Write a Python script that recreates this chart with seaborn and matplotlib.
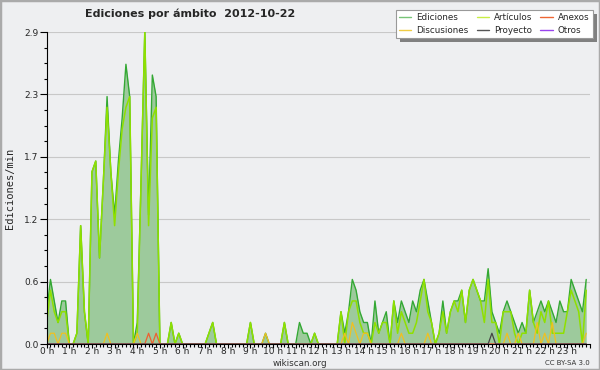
import numpy as np
import matplotlib
matplotlib.use('Agg')
import matplotlib.pyplot as plt
from matplotlib.lines import Line2D
from matplotlib.patches import Rectangle
import seaborn as sns

# ediciones por minuto en tramos de 10 minutos (6 por hora)
ediciones = [
    0.3, 0.6, 0.4, 0.2, 0.4, 0.4,   # 0 h
    0.0, 0.0, 0.1, 1.1, 0.3, 0.0,   # 1 h
    1.6, 1.7, 0.8, 1.5, 2.3, 1.6,   # 2 h
    1.2, 1.7, 2.1, 2.6, 2.3, 0.0,   # 3 h
    0.2, 1.5, 2.9, 1.2, 2.5, 2.3,   # 4 h
    0.0, 0.0, 0.0, 0.2, 0.0, 0.1,   # 5 h
    0.0, 0.0, 0.0, 0.0, 0.0, 0.0,   # 6 h
    0.0, 0.1, 0.2, 0.0, 0.0, 0.0,   # 7 h
    0.0, 0.0, 0.0, 0.0, 0.0, 0.0,   # 8 h
    0.2, 0.0, 0.0, 0.0, 0.1, 0.0,   # 9 h
    0.0, 0.0, 0.0, 0.2, 0.0, 0.0,   # 10 h
    0.0, 0.2, 0.1, 0.1, 0.0, 0.1,   # 11 h
    0.0, 0.0, 0.0, 0.0, 0.0, 0.0,   # 12 h
    0.3, 0.1, 0.3, 0.6, 0.5, 0.3,   # 13 h
    0.2, 0.2, 0.0, 0.4, 0.1, 0.2,   # 14 h
    0.3, 0.0, 0.4, 0.2, 0.4, 0.3,   # 15 h
    0.2, 0.4, 0.3, 0.5, 0.6, 0.4,   # 16 h
    0.2, 0.0, 0.1, 0.4, 0.1, 0.3,   # 17 h
    0.4, 0.4, 0.5, 0.2, 0.5, 0.6,   # 18 h
    0.5, 0.4, 0.4, 0.7, 0.3, 0.2,   # 19 h
    0.1, 0.3, 0.4, 0.3, 0.2, 0.1,   # 20 h
    0.2, 0.1, 0.5, 0.2, 0.3, 0.4,   # 21 h
    0.3, 0.4, 0.3, 0.2, 0.4, 0.3,   # 22 h
    0.3, 0.6, 0.5, 0.4, 0.3, 0.6,   # 23 h
]

articulos = [
    0.2, 0.5, 0.3, 0.2, 0.3, 0.3,
    0.0, 0.0, 0.1, 1.1, 0.3, 0.0,
    1.6, 1.7, 0.8, 1.5, 2.2, 1.6,
    1.1, 1.6, 2.0, 2.2, 2.3, 0.0,
    0.1, 1.5, 2.9, 1.1, 2.1, 2.2,
    0.0, 0.0, 0.0, 0.2, 0.0, 0.1,
    0.0, 0.0, 0.0, 0.0, 0.0, 0.0,
    0.0, 0.1, 0.2, 0.0, 0.0, 0.0,
    0.0, 0.0, 0.0, 0.0, 0.0, 0.0,
    0.2, 0.0, 0.0, 0.0, 0.0, 0.0,
    0.0, 0.0, 0.0, 0.2, 0.0, 0.0,
    0.0, 0.0, 0.0, 0.0, 0.0, 0.1,
    0.0, 0.0, 0.0, 0.0, 0.0, 0.0,
    0.3, 0.0, 0.3, 0.4, 0.4, 0.2,
    0.1, 0.1, 0.0, 0.2, 0.1, 0.2,
    0.2, 0.0, 0.4, 0.1, 0.3, 0.2,
    0.1, 0.1, 0.2, 0.4, 0.6, 0.3,
    0.2, 0.0, 0.1, 0.3, 0.1, 0.3,
    0.4, 0.3, 0.5, 0.2, 0.5, 0.6,
    0.5, 0.4, 0.2, 0.6, 0.2, 0.2,
    0.0, 0.3, 0.3, 0.3, 0.1, 0.0,
    0.1, 0.1, 0.5, 0.2, 0.1, 0.3,
    0.2, 0.4, 0.1, 0.1, 0.1, 0.1,
    0.3, 0.5, 0.4, 0.3, 0.0, 0.5,
]

# valores distintos de cero de los ámbitos pequeños: {tramo: valor}
discusiones_nz = {1: 0.1, 2: 0.1, 4: 0.1, 5: 0.1, 16: 0.1, 24: 0.1, 58: 0.1,
                  79: 0.1, 81: 0.2, 82: 0.1, 84: 0.1, 85: 0.1, 94: 0.1,
                  101: 0.1, 122: 0.1, 125: 0.1, 130: 0.2, 132: 0.1,
                  134: 0.2, 143: 0.1}
anexos_nz = {27: 0.1, 29: 0.1}
proyecto_nz = {118: 0.1}
otros_nz = {}

n = len(ediciones)
horas = np.arange(n) / 6.0


def serie(nz):
    v = np.zeros(n)
    for k, val in nz.items():
        v[k] = val
    return v


discusiones = serie(discusiones_nz)
anexos = serie(anexos_nz)
proyecto = serie(proyecto_nz)
otros = serie(otros_nz)

bg = '#eeeff1'
sns.set_style('ticks', rc={'axes.facecolor': bg, 'figure.facecolor': bg})
plt.rcParams['font.family'] = ['DejaVu Sans']

fig = plt.figure(figsize=(6, 3.7), dpi=100)
ax = fig.add_axes([46.7 / 600, 26 / 370, 543.3 / 600, 312 / 370])

ax.fill_between(horas, 0, ediciones, color='#9dca9c', lw=0, zorder=1)
sns.lineplot(x=horas, y=ediciones, ax=ax, color='#33a833', lw=1.0, zorder=3)
sns.lineplot(x=horas, y=articulos, ax=ax, color='#8fe000', lw=1.1, zorder=4)
sns.lineplot(x=horas, y=discusiones, ax=ax, color='#f0c020', lw=0.9, zorder=5)
sns.lineplot(x=horas, y=anexos, ax=ax, color='#ee6030', lw=0.9, zorder=5)
sns.lineplot(x=horas, y=proyecto, ax=ax, color='#444444', lw=0.9, zorder=5)
sns.lineplot(x=horas, y=otros, ax=ax, color='#9933ee', lw=0.9, zorder=5)

ax.set_xlim(0, 24)
ax.set_ylim(0, 2.9)
ax.set_axisbelow(True)
ax.yaxis.grid(True, color='#c8c8c8', lw=0.8)
ax.xaxis.grid(False)
for s in ['top', 'right']:
    ax.spines[s].set_visible(False)
for s in ['left', 'bottom']:
    ax.spines[s].set_color('black')
    ax.spines[s].set_linewidth(0.8)
    ax.spines[s].set_zorder(10)

yt = np.linspace(0, 2.9, 6)
ax.set_yticks(yt)
ax.set_yticklabels([f'{v:.1f}' for v in yt])
ax.set_yticks(np.linspace(0, 2.9, 21), minor=True)
ax.set_xticks(range(25))
ax.set_xticklabels([f'{h} h' for h in range(24)] + [''])
ax.set_xticks(np.arange(0, 24.01, 1 / 6), minor=True)
ax.tick_params(axis='y', which='major', length=5, width=0.8, pad=1, labelsize=6.5, color='black')
ax.tick_params(axis='y', which='minor', length=2.5, width=0.8, color='black')
ax.tick_params(axis='x', which='major', length=3, width=0.8, pad=-0.5, labelsize=6.5, color='black')
ax.tick_params(axis='x', which='minor', length=2, width=0.8, color='black')
ax.set_xlabel('')
ax.set_ylabel('')

fig.text(85 / 600, 1 - 14 / 370, 'Ediciones por ámbito  2012-10-22',
         fontweight='bold', fontsize=8, ha='left', va='center')
fig.text(10 / 600, 1 - 188 / 370, 'Ediciones/min', family='DejaVu Sans Mono',
         fontsize=7.5, rotation=90, ha='center', va='center')
fig.text(300 / 600, 1 - 363 / 370, 'wikiscan.org', fontsize=6.3, ha='center',
         va='center', color='#333333')
fig.text(590 / 600, 1 - 363 / 370, 'CC BY-SA 3.0', fontsize=5, ha='right',
         va='center', color='#333333')

handles = [
    Line2D([], [], color='#77c477', lw=1),
    Line2D([], [], color='#f0cc44', lw=1),
    Line2D([], [], color='#c8ee44', lw=1),
    Line2D([], [], color='#555555', lw=1),
    Line2D([], [], color='#ee6633', lw=1),
    Line2D([], [], color='#9944ee', lw=1),
]
labels = ['Ediciones', 'Discusiones', 'Artículos', 'Proyecto', 'Anexos', 'Otros']
leg = fig.legend(handles, labels, loc='upper right', bbox_to_anchor=(593 / 600, 1 - 10 / 370),
                 ncol=3, fontsize=6.3, frameon=True, fancybox=False, handlelength=1.4,
                 handletextpad=0.6, columnspacing=0.9, labelspacing=0.35,
                 borderpad=0.4, borderaxespad=0)
leg.get_frame().set_facecolor('white')
leg.get_frame().set_edgecolor('#999999')
leg.get_frame().set_linewidth(0.8)
leg.get_frame().set_alpha(1)
leg.set_zorder(20)

fig.canvas.draw()
bb = leg.get_window_extent().transformed(fig.transFigure.inverted())
dx, dy = 4 / 600, 4 / 370
fig.patches.append(Rectangle((bb.x0 + dx, bb.y0 - dy), bb.width, bb.height,
                             transform=fig.transFigure, facecolor='#808080',
                             edgecolor='none', zorder=19))
fig.patches.append(Rectangle((0, 0), 1, 1, transform=fig.transFigure, fill=False,
                             edgecolor='#aaaaaa', lw=2.5, zorder=30))

fig.savefig('out.png', dpi=100, facecolor=bg)
